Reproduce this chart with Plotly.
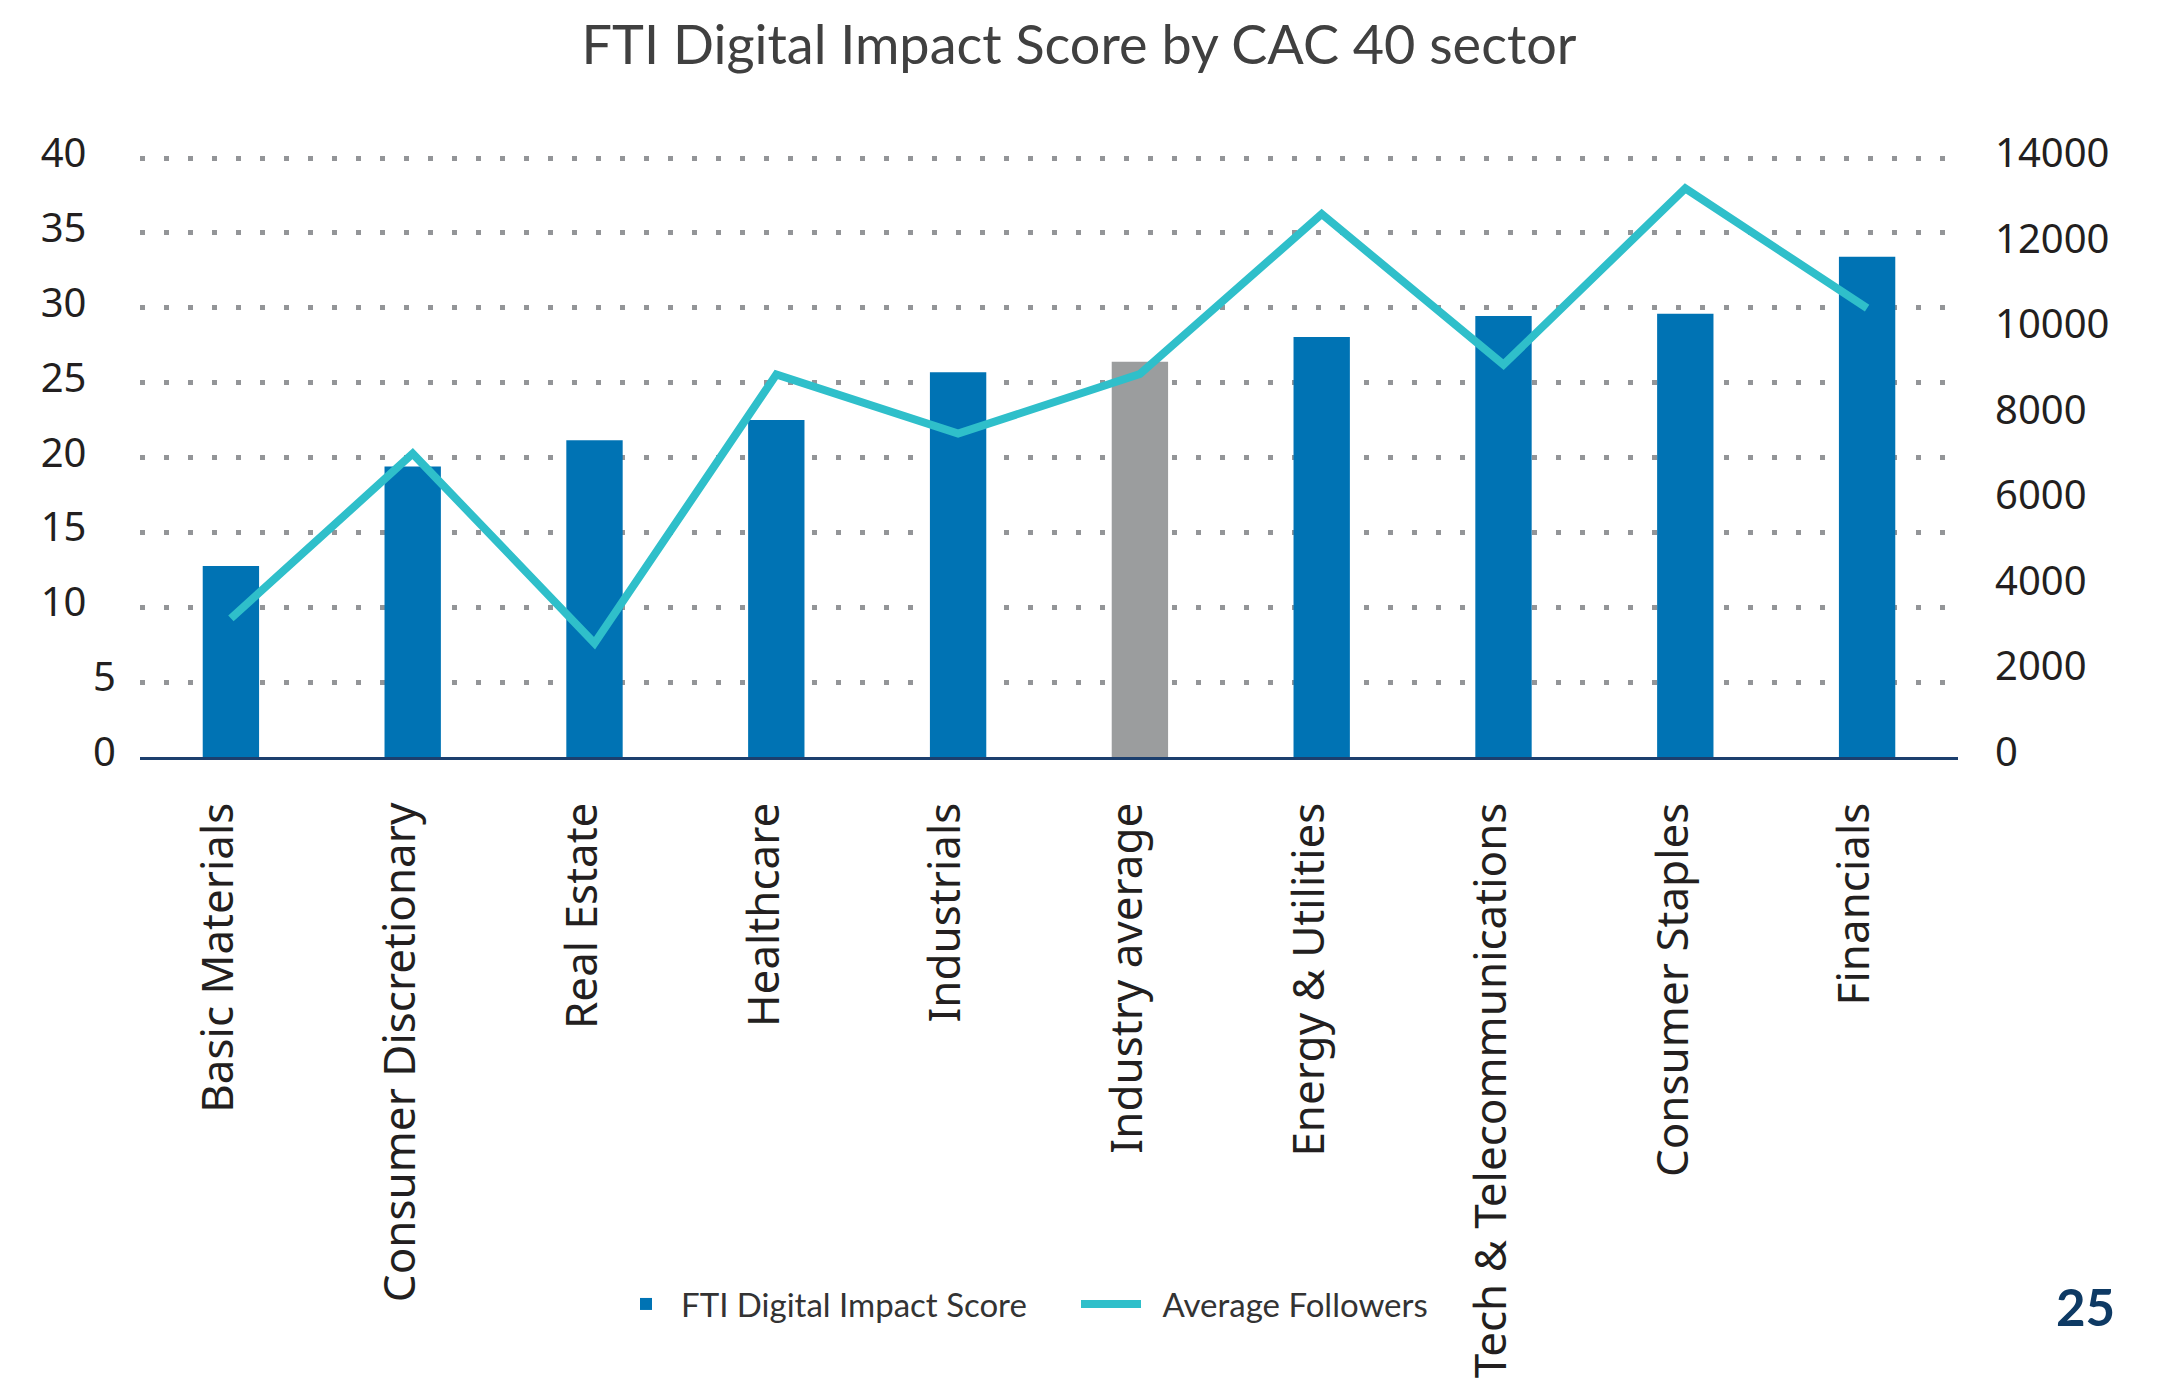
import plotly.graph_objects as go

categories = ["Basic Materials", "Consumer Discretionary", "Real Estate", "Healthcare",
              "Industrials", "Industry average", "Energy & Utilities",
              "Tech & Telecommunications", "Consumer Staples", "Financials"]
impact_score = [12.75, 19.4, 21.15, 22.5, 25.7, 26.4, 28.05, 29.45, 29.6, 33.4]
avg_followers = [3240, 7090, 2660, 8940, 7560, 8950, 12690, 9170, 13290, 10490]

left_tick_vals = [0, 5, 10, 15, 20, 25, 30, 35, 40]
left_tick_text = ["0", "5", "10\u2007\u2009", "15\u2007\u2009", "20\u2007\u2009", "25\u2007\u2009",
                  "30\u2007\u2009", "35\u2007\u2009", "40\u2007\u2009"]
right_tick_vals = [0, 2000, 4000, 6000, 8000, 10000, 12000, 14000]
right_tick_text = ["0", "2000", "4000", "6000", "8000", "10000", "12000", "14000"]

BLUE = "#0073B4"
GREY = "#9B9D9E"
TEAL = "#2FBFCA"
bar_colors = [GREY if c == "Industry average" else BLUE for c in categories]

tick_font = dict(family="Noto Sans, Open Sans, sans-serif", size=40, color="#231F20")
cat_font = dict(family="Noto Sans, Open Sans, sans-serif", size=44, color="#231F20")
sans = "Lato, Roboto, sans-serif"

# page body has an 8px default margin: figure is sized/shifted to compensate
W, H = 2154, 1381
L, R, T, B = 132, 204, 147, 632
PW, PH = W - L - R, H - T - B
Y_TOP = 40.2  # a little headroom so the 40 gridline is not clipped at the plot edge

fig = go.Figure()
fig.add_trace(go.Bar(x=categories, y=impact_score, name="FTI Digital Impact Score",
                     marker=dict(color=bar_colors, line=dict(width=0)), yaxis="y"))
fig.add_trace(go.Scatter(x=categories, y=avg_followers, name="\u2002Average Followers",
                         mode="lines", line=dict(color=TEAL, width=8), yaxis="y2"))

fig.update_layout(
    width=W, height=H,
    margin=dict(l=L, r=R, t=T, b=B),
    paper_bgcolor="white", plot_bgcolor="white",
    bargap=0.69,
    title=dict(text="FTI Digital Impact Score by CAC 40 sector",
               x=1071 / W, xanchor="center", y=1 - 37.5 / H, yanchor="middle",
               font=dict(family=sans, size=54, color="#404040")),
    xaxis=dict(type="category", showgrid=False, showline=True, linecolor="#1C3F6E",
               linewidth=3, ticks="", tickangle=-90, tickfont=cat_font,
               ticklabelstandoff=25, ticklabelshift=-12, automargin=False),
    yaxis=dict(range=[0, Y_TOP], tickvals=left_tick_vals, ticktext=left_tick_text,
               showgrid=True, gridcolor="#939598", gridwidth=5, griddash="5px,19px",
               zeroline=False, showline=False, ticks="", tickfont=tick_font,
               ticklabelstandoff=23, ticklabelshift=-5, automargin=False),
    yaxis2=dict(range=[0, 14000 * Y_TOP / 40], overlaying="y", side="right",
                tickvals=right_tick_vals, ticktext=right_tick_text,
                showgrid=False, zeroline=False, showline=False, ticks="",
                tickfont=tick_font, ticklabelstandoff=36, ticklabelshift=-5,
                automargin=False),
    legend=dict(orientation="h", x=(603 - L) / PW, xanchor="left",
                y=(PH + T - 1296) / PH, yanchor="middle",
                font=dict(family=sans, size=33, color="#333333"),
                bgcolor="rgba(0,0,0,0)", itemwidth=60, entrywidth=390,
                traceorder="normal"),
    showlegend=True,
)

fig.add_annotation(text="<b>25</b>", xref="paper", yref="paper",
                   x=(2077 - L) / PW, y=(PH + T - 1298) / PH,
                   xanchor="center", yanchor="middle", showarrow=False,
                   font=dict(family=sans, size=51, color="#0E3A64"))

fig.write_html("out.html")
